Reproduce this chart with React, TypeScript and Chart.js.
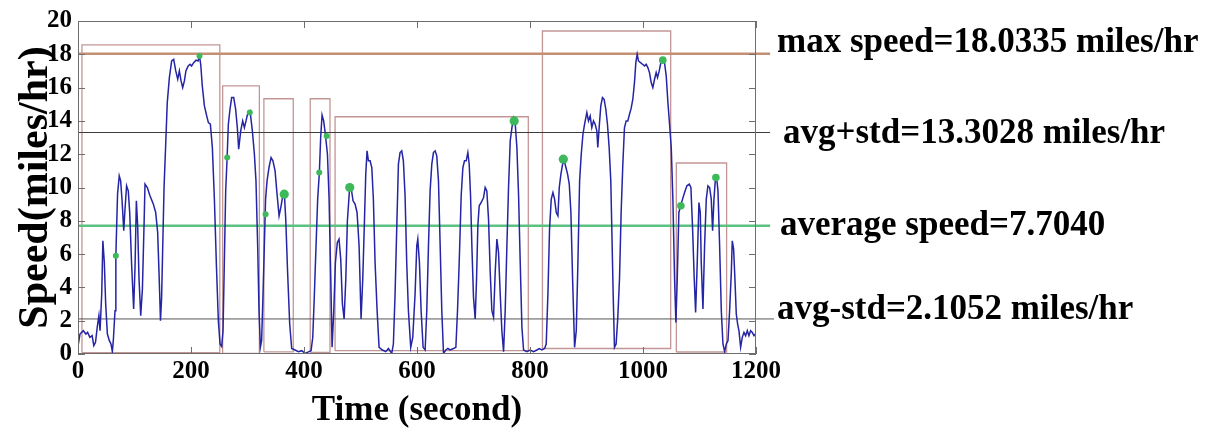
import React, { useEffect, useRef } from "react";
import { Chart, registerables } from "chart.js";
Chart.register(...registerables);

// ---- Speed trace (time in seconds, speed in miles/hr) ----
const time = [
  0.6, 3.5, 9.4, 14, 17, 21, 25, 28, 31, 34, 37, 39, 42, 44, 46.6, 49, 52, 55.5, 58.4, 60.8, 62.5, 65.5, 67, 70, 73, 75.5, 78, 81, 83, 86, 89, 91.5, 95, 98.5,
  101, 103.3, 105.6, 108, 111, 114, 117, 118.6, 122.7, 127.4, 133.4, 137.5, 141, 143.4, 146, 148, 150, 152.3, 155, 158, 161.7, 165.8, 169.4, 173, 176.5, 179.4,
  182.4, 185.3, 188.3, 191, 195, 198.3, 201, 204.8, 208.9, 212.5, 215, 217.2, 220, 223.7, 227.8, 230.8, 234.3, 237.8, 241.4, 245, 248.4, 251.4, 254.3, 256.7,
  259, 261.4, 263.8, 266.1, 269, 272, 275.6, 279, 282, 284.4, 288, 291.5, 294.5, 297.4, 300, 304.5, 308.6, 312.2, 315, 318, 320.4, 322.8, 325, 327.5, 329.8,
  332, 334.6, 338, 341.7, 345, 348.8, 352.3, 355.9, 359.5, 362.4, 365.3, 367.7, 371, 374.7, 378.2, 384, 390, 396, 402, 408, 412.5, 415.5, 418.3, 421.3, 424.2,
  427.2, 429.5, 432, 434.8, 437.8, 441.5, 444.4, 447.4, 449.7, 452.7, 455.6, 459, 462, 465, 468, 471, 474, 476.8, 480.4, 483.3, 486.8, 490.4, 493.9, 497.5,
  501, 504, 507, 509.3, 511.6, 514, 517, 520, 522.8, 525.8, 529.4, 532.9, 538.8, 544.7, 549.4, 555.3, 558.2, 561.2, 564.1, 567.1, 570, 573, 575.9, 578.9,
  581.8, 584.8, 588.9, 592.5, 596.6, 599.6, 601.4, 604.3, 607.3, 610.8, 614.4, 617.3, 620.3, 623.2, 626.2, 629.1, 632.1, 635, 638, 641, 643.9, 646.9, 651,
  654.6, 658.7, 664.6, 668.8, 671.7, 674.7, 678.2, 681.2, 684.1, 687.1, 690, 692.4, 694.8, 697.1, 700, 703, 705.4, 707.7, 710.1, 713.6, 717.8, 720.7, 723.6,
  726.6, 729.6, 732.5, 735.5, 738.4, 741.4, 744.3, 747.3, 750.2, 753.2, 756.1, 759.1, 762, 765, 768, 770.9, 773.9, 776.8, 779.8, 782.7, 785.7, 788.6, 794.5,
  800.4, 806.3, 812.2, 816.4, 821, 825.8, 828.7, 831.7, 834.6, 837.6, 840.6, 843.5, 846.5, 849.4, 851.8, 854.7, 857.7, 860.6, 863.6, 866.5, 869.5, 872.4,
  875.4, 878.9, 881.9, 884.8, 887.8, 890.7, 893.7, 896.6, 900.6, 903.5, 906.5, 909.4, 912.4, 915.3, 918.3, 920, 922.4, 925.3, 928.3, 931.2, 934.2, 937.1,
  940.1, 943, 944.8, 947.2, 949.5, 952.4, 955.4, 958.4, 961.3, 964.3, 967.2, 970.2, 973.1, 976.1, 979, 982, 984.9, 987.3, 989.7, 992, 995.6, 999.1, 1002.7,
  1005.6, 1008.6, 1011.5, 1014.5, 1017.4, 1020.4, 1023.3, 1025.7, 1028.7, 1031.6, 1035.2, 1038.1, 1041.1, 1044.1, 1047, 1050, 1052.9, 1055.9, 1058.2,
  1060.6, 1063.5, 1066.5, 1070, 1073.6, 1077.7, 1081.9, 1084.8, 1087.8, 1090.7, 1093.1, 1096, 1099, 1101.4, 1103.1, 1106.1, 1109, 1112, 1114.9, 1117.9,
  1120.8, 1123.2, 1125.6, 1127.9, 1130.3, 1132.7, 1135.6, 1138.6, 1141.5, 1144.5, 1147.4, 1150.4, 1153.3, 1156.3, 1158, 1160.4, 1162.7, 1165.1, 1167.5,
  1169.8, 1172.8, 1175.7, 1178.7, 1181.6, 1184.6, 1187.5, 1190.5, 1193.4, 1196.4, 1199,
];
const speed = [
  0.6, 1.2, 1.4, 1.2, 1.3, 1.0, 1.1, 0.5, 0.7, 1.6, 2.3, 1.4, 3.6, 6.8, 5.5, 3.0, 1.2, 0.8, 0.6, 0.15, 0.8, 2.6, 5.9, 9.6, 10.7, 10.4, 9.2, 7.4, 8.6, 10.1, 9.8, 8.5, 5.3, 2.7,
  5.3, 9.2, 7.7, 4.5, 2.3, 3.9, 7.9, 10.2, 10.0, 9.5, 9.0, 8.5, 7.3, 4.9, 2.0, 3.4, 6.5, 10.0, 12.4, 15.1, 16.6, 17.6, 17.7, 17.0, 16.5, 17.0,
  16.4, 16.0, 16.4, 17.0, 17.3, 17.4, 17.3, 17.5, 17.65, 17.6, 17.9, 17.4, 16.1, 14.9, 14.3, 13.9, 13.8, 12.4, 9.3, 5.3, 2.0, 0.6, 0.45, 1.4,
  5.5, 9.8, 11.7, 13.8, 14.7, 15.4, 15.4, 14.7, 13.6, 12.3, 13.4, 14.0, 13.6, 14.0, 14.4, 14.6, 13.4, 12.0, 10.4, 6.5, 2.6, 0.4, 0.8, 3.6, 6.5,
  9.3, 10.4, 11.2, 11.8, 11.6, 11.0, 9.6, 8.3, 8.9, 9.5, 9.6, 8.1, 4.9, 1.8, 0.33, 0.24, 0.14, 0.2, 0.04, 0.13, 0.2, 1.0, 3.5, 6.5, 9.3,
  10.9, 13.0, 14.35, 14.0, 13.2, 12.0, 9.3, 4.5, 0.4, 2.6, 5.5, 6.7, 6.9, 5.7, 3.0, 2.1, 4.5, 8.0, 9.8, 10.0, 9.2, 9.0, 8.5, 6.5,
  2.1, 4.5, 8.0, 10.8, 12.2, 11.6, 11.6, 11.2, 9.3, 5.5, 2.6, 0.4, 0.24, 0.14, 0.33, 0.04, 0.6, 3.6, 7.5, 11.4, 12.1, 12.2, 11.6, 9.5,
  5.5, 2.6, 0.4, 1.0, 3.6, 6.5, 6.9, 5.5, 2.6, 0.4, 0.24, 2.6, 6.5, 9.8, 11.4, 12.1, 12.2, 11.9, 10.4, 6.5, 2.6, 0.04, 0.24,
  0.33, 0.24, 0.33, 0.4, 2.6, 5.5, 9.5, 11.2, 11.6, 11.6, 12.1, 11.4, 9.5, 6.5, 3.4, 2.1, 4.5, 7.7, 8.9, 9.1, 9.4, 10.0, 9.8,
  8.1, 4.9, 2.6, 2.2, 4.9, 6.9, 6.1, 3.6, 1.4, 0.14, 2.6, 6.5, 10.0, 12.8, 13.6, 14.15, 13.8, 12.4, 9.5, 5.5, 1.6, 0.24, 0.14,
  0.24, 0.14, 0.24, 0.33, 0.24, 0.33, 0.6, 3.6, 7.5, 9.3, 9.7, 9.3, 8.5, 8.3, 10.0, 10.8, 11.4, 11.6, 11.2, 10.8, 10.2, 8.5,
  4.5, 0.4, 1.4, 5.5, 10.4, 12.0, 13.2, 13.8, 14.5, 14.0, 14.3, 13.6, 14.0, 13.8, 13.4, 12.4, 13.6, 14.9, 15.4, 15.3, 14.7, 13.8,
  12.4, 10.4, 7.5, 3.6, 0.4, 0.6, 2.2, 4.5, 8.5, 11.4, 13.6, 14.0, 14.0, 14.4, 14.75, 15.3, 16.3, 17.5, 18.0, 17.6, 17.5, 17.4, 17.3,
  17.4, 17.2, 16.9, 16.3, 16.0, 16.5, 16.9, 16.6, 17.0, 17.5, 17.7, 17.5, 16.7, 15.1, 13.8, 12.4, 9.3, 4.5, 1.9,
  4.5, 8.5, 8.9, 9.3, 9.7, 10.1, 10.2, 10.0, 7.5, 4.5, 2.5, 5.5, 9.1, 8.5, 5.5, 2.7, 6.5, 9.3, 10.1, 10.0,
  9.3, 7.4, 9.3, 10.4, 10.6, 9.8, 6.5, 2.6, 0.6, 0.14, 0.6, 0.8, 2.6, 4.9, 6.8, 6.3, 4.5, 2.4, 1.8,
  1.4, 0.4, 1.0, 1.3, 1.1, 1.4, 1.1, 1.4, 1.3, 1.1, 1.2,
];

// ---- Marked points (green dots) ----
const smallDotTime = [67, 215, 264, 304, 332, 427, 440];
const smallDotSpeed = [5.9, 17.9, 11.8, 14.5, 8.4, 10.9, 13.1];
const mediumDotTime = [1035, 1067, 1129];
const mediumDotSpeed = [17.65, 8.9, 10.6];
const largeDotTime = [365, 481, 772, 859];
const largeDotSpeed = [9.6, 10.0, 14.0, 11.7];

// ---- Segment boxes ----
const boxStart = [7, 256, 329, 411, 455, 822, 1059];
const boxEnd = [251, 321, 381, 446, 797, 1049, 1148];
const boxTop = [18.57, 16.1, 15.33, 15.33, 14.25, 19.4, 11.47];
const boxBottom = [0.08, 0.04, 0.13, 0.1, 0.2, 0.33, 0.12];

// ---- Reference lines ----
const refNames = ["max speed", "avg+std", "average speed", "avg-std"];
const refValues = [18.0335, 13.3028, 7.704, 2.1052];
const refLabels = [
  "max speed=18.0335 miles/hr",
  "avg+std=13.3028 miles/hr",
  "average speed=7.7040",
  "avg-std=2.1052 miles/hr",
];
const refLineEnd = [1225, 1225, 1225, 1232];

const xTitle = "Time (second)";
const yTitle = "Speed(miles/hr)";
const xMin = 0, xMax = 1200, xStep = 200;
const yMin = 0, yMax = 20, yStep = 2;

const SERIF = "'Liberation Serif', 'Times New Roman', Times, serif";

export default function App() {
  const ref = useRef<HTMLCanvasElement>(null);

  useEffect(() => {
    document.body.style.margin = "0";
    const canvas = ref.current!;

    const refColors = ["#c48f72", "#3c3c3c", "#5cc282", "#555555"];
    const refWidths = [2.5, 1, 2.5, 1];
    const labelDx = [21, 27, 24, 21];
    const labelDy = [-2, 10, 9, 0];

    const datasets: any[] = [];

    boxStart.forEach((s, i) => {
      const e = boxEnd[i];
      const t = boxTop[i];
      const b = boxBottom[i];
      datasets.push({
        label: "box" + i,
        data: [
          { x: s, y: b },
          { x: e, y: b },
          { x: e, y: t },
          { x: s, y: t },
          { x: s, y: b },
        ],
        borderColor: "#c39696",
        borderWidth: 1.3,
        pointRadius: 0,
        fill: false,
        tension: 0,
        order: 4,
      });
    });

    refValues.forEach((v, i) => {
      datasets.push({
        label: refNames[i],
        data: [
          { x: xMin, y: v },
          { x: refLineEnd[i], y: v },
        ],
        borderColor: refColors[i],
        borderWidth: refWidths[i],
        pointRadius: 0,
        clip: false,
        order: 3,
      });
    });

    datasets.push({
      label: "speed",
      data: time.map((t, i) => ({ x: t, y: speed[i] })),
      borderColor: "#2424a4",
      borderWidth: 1.5,
      pointRadius: 0,
      tension: 0,
      order: 2,
    });

    const dotSets: [number[], number[], number][] = [
      [smallDotTime, smallDotSpeed, 3],
      [mediumDotTime, mediumDotSpeed, 3.8],
      [largeDotTime, largeDotSpeed, 4.6],
    ];
    dotSets.forEach(([tx, sy, r], k) => {
      datasets.push({
        type: "scatter",
        label: "dots" + k,
        data: tx.map((t, i) => ({ x: t, y: sy[i] })),
        showLine: false,
        pointRadius: r,
        pointBackgroundColor: "#3db95c",
        pointBorderWidth: 0,
        backgroundColor: "#3db95c",
        borderColor: "#3db95c",
        order: 1,
      });
    });

    const framePlugin = {
      id: "frameAndLabels",
      afterDatasetsDraw(chart: any) {
        const { ctx, chartArea: a, scales } = chart;
        const xs = scales.x;
        const ys = scales.y;
        ctx.save();
        ctx.strokeStyle = "#6e6e6e";
        ctx.lineWidth = 1;
        ctx.strokeRect(a.left + 0.5, a.top + 0.5, a.right - a.left - 1, a.bottom - a.top - 1);
        const tl = 7;
        ctx.beginPath();
        xs.ticks.forEach((t: any) => {
          const px = Math.round(xs.getPixelForValue(t.value)) + 0.5;
          ctx.moveTo(px, a.bottom);
          ctx.lineTo(px, a.bottom - tl);
          ctx.moveTo(px, a.top);
          ctx.lineTo(px, a.top + tl);
        });
        ys.ticks.forEach((t: any) => {
          const py = Math.round(ys.getPixelForValue(t.value)) + 0.5;
          ctx.moveTo(a.left, py);
          ctx.lineTo(a.left + tl, py);
          ctx.moveTo(a.right, py);
          ctx.lineTo(a.right - tl, py);
        });
        ctx.stroke();
        ctx.restore();
      },
      afterDraw(chart: any) {
        const { ctx, chartArea: a, scales } = chart;
        const ys = scales.y;
        ctx.save();
        ctx.fillStyle = "#000";
        ctx.font = `bold 35px ${SERIF}`;
        ctx.textAlign = "left";
        ctx.textBaseline = "alphabetic";
        refLabels.forEach((txt, i) => {
          const y = ys.getPixelForValue(refValues[i]) + labelDy[i];
          ctx.fillText(txt, a.right + labelDx[i], y);
        });
        ctx.restore();
      },
    };

    const tickFont = { family: SERIF, size: 25, weight: "bold" as const };

    const chart = new Chart(canvas, {
      type: "line",
      data: { datasets },
      options: {
        animation: false,
        responsive: false,
        parsing: true,
        layout: { padding: { left: 0, top: 14, right: 451, bottom: 0 } },
        plugins: {
          legend: { display: false },
          tooltip: { enabled: false },
          title: { display: false },
        },
        scales: {
          x: {
            type: "linear",
            min: xMin,
            max: xMax,
            grid: { display: false, drawTicks: false },
            border: { display: false },
            ticks: {
              stepSize: xStep,
              color: "#000",
              font: tickFont,
              padding: 3,
              maxRotation: 0,
              callback: (v: any) => String(v),
            },
            title: {
              display: true,
              text: xTitle,
              color: "#000",
              font: { family: SERIF, size: 35, weight: "bold", lineHeight: 1 },
              padding: { top: 0, bottom: 1 },
            },
            afterFit(s: any) {
              s.height = 75;
            },
          },
          y: {
            type: "linear",
            min: yMin,
            max: yMax,
            grid: { display: false, drawTicks: false },
            border: { display: false },
            ticks: {
              stepSize: yStep,
              color: "#000",
              font: tickFont,
              padding: 6,
              callback: (v: any) => String(v),
            },
            title: {
              display: true,
              text: yTitle,
              color: "#000",
              font: { family: SERIF, size: 42, weight: "bold", lineHeight: 1 },
              padding: { top: 15, bottom: 0 },
            },
            afterFit(s: any) {
              s.width = 78;
            },
          },
        },
      },
      plugins: [framePlugin],
    });
    return () => chart.destroy();
  }, []);

  return (
    <div style={{ position: "absolute", left: 0, top: 0, width: 1207, height: 429, background: "#fff" }}>
      <canvas ref={ref} width={1207} height={429} />
    </div>
  );
}
